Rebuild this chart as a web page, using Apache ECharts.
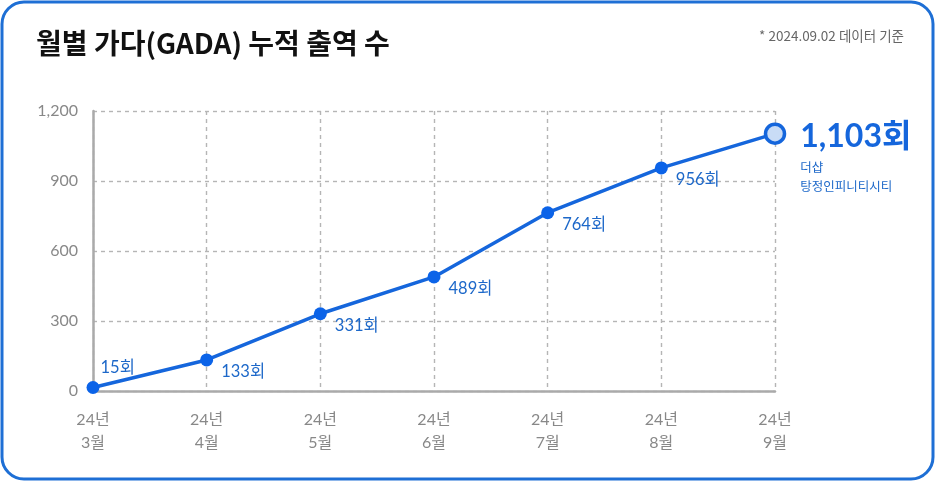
<!DOCTYPE html>
<html><head><meta charset="utf-8">
<script src="https://cdn.jsdelivr.net/npm/echarts@6/dist/echarts.min.js"></script>
<style>html,body{margin:0;padding:0;background:#fff}#c{width:936px;height:482px}</style>
</head><body><div id="c"></div>
<script>
const categories = ['24년\n3월','24년\n4월','24년\n5월','24년\n6월','24년\n7월','24년\n8월','24년\n9월'];
const values = [15, 133, 331, 489, 764, 956, 1103];
const yTicks = [0, 300, 600, 900, 1200];
const titleText = '월별 가다(GADA) 누적 출역 수';
const noteText = '* 2024.09.02 데이터 기준';
const lastName = ['더샵', '탕정인피니티시티'];

const FONT = "Lato, 'Noto Sans CJK KR', sans-serif";
const BLUE = '#1566dc';
const LABEL_BLUE = '#1d68c9';
const chart = echarts.init(document.getElementById('c'));

const data = values.map((v, i) => {
  const d = { value: v };
  if (i === 0) {
    d.label = { offset: [-5, -20] };
  } else if (i === values.length - 1) {
    d.symbol = 'circle';
    d.symbolSize = 19;
    d.itemStyle = { color: '#c9dcf6', borderColor: BLUE, borderWidth: 3.5 };
    d.label = {
      distance: 14,
      offset: [0, 22],
      formatter: () => '{big|' + v.toLocaleString('en-US') + '회}\n{small|' + lastName[0] + '}\n{small|' + lastName[1] + '}',
      rich: {
        big: { fontSize: 32, fontWeight: 'bold', color: BLUE, fontFamily: FONT, lineHeight: 44 },
        small: { fontSize: 12.5, color: LABEL_BLUE, fontFamily: FONT, lineHeight: 19 }
      }
    };
  }
  return d;
});

chart.setOption({
  animation: false,
  textStyle: { fontFamily: FONT },
  graphic: [
    { type: 'rect', shape: { x: 2, y: 2, width: 931, height: 477, r: 22 },
      style: { fill: 'none', stroke: '#1e6fd5', lineWidth: 3 }, silent: true },
    { type: 'text', left: 36, top: 29,
      style: { text: titleText, font: "bold 28px 'Noto Sans CJK KR', sans-serif", fill: '#111' } },
    { type: 'text', right: 32, top: 29,
      style: { text: noteText, font: "13.5px 'Noto Sans CJK KR', sans-serif", fill: '#666' } }
  ],
  grid: { left: 93, right: 161, top: 111, bottom: 91, containLabel: false },
  xAxis: {
    type: 'category', data: categories, boundaryGap: false,
    axisLine: { lineStyle: { color: '#aaa', width: 2.5 } },
    axisTick: { show: false },
    axisLabel: { color: '#888', fontSize: 16, lineHeight: 23, margin: 17, fontFamily: FONT },
    splitLine: { show: true, lineStyle: { color: '#b5b5b5', type: [4, 4], width: 1.4 } }
  },
  yAxis: {
    type: 'value', min: 0, max: 1200, interval: 300,
    axisLine: { show: true, lineStyle: { color: '#aaa', width: 2.5 } },
    axisTick: { show: false },
    axisLabel: { color: '#888', fontSize: 16, margin: 15, fontFamily: FONT,
      formatter: v => yTicks.includes(v) ? v.toLocaleString('en-US') : '' },
    splitLine: { show: true, lineStyle: { color: '#b5b5b5', type: [4, 4], width: 1.4 } }
  },
  series: [{
    type: 'line', data: data,
    symbol: 'circle', symbolSize: 13,
    lineStyle: { color: BLUE, width: 3.5 },
    itemStyle: { color: '#0b63e8' },
    label: {
      show: true, position: 'right', distance: 6, offset: [2, 12],
      color: LABEL_BLUE, fontSize: 16.5, fontFamily: FONT,
      formatter: p => p.value.toLocaleString('en-US') + '회'
    },
    z: 5
  }]
});
</script></body></html>
